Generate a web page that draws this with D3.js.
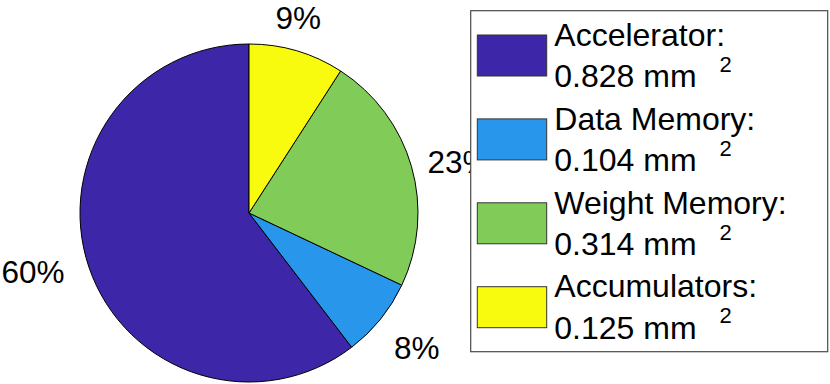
<!DOCTYPE html>
<html><head><meta charset="utf-8">
<script src="https://cdn.jsdelivr.net/npm/d3@7"></script>
<style>
body{margin:0;background:#fff;overflow:hidden}
text{font-family:"Liberation Sans",Arial,Helvetica,sans-serif;fill:#000}
</style>
</head><body>
<svg id="chart" width="830" height="384"></svg>
<script>
// ---- data ----
const categories = ["Accelerator", "Data Memory", "Weight Memory", "Accumulators"];
const areas = [0.828, 0.104, 0.314, 0.125];
const areaLabels = ["0.828", "0.104", "0.314", "0.125"];
const unitLabel = "mm";
const unitExponent = "2";
const colors = ["#3e26a8", "#2796eb", "#81cc59", "#f9fb0e"];

// ---- layout ----
const W = 830, H = 384;
const cx = 249, cy = 213, R = 169;
const labelRadius = 1.2 * R;
const labelNudge = [[-24, -6], [10, 8], [15, 5], [-8, -1]];
const fontSize = 32;

const svg = d3.select("#chart");

const pie = d3.pie().sort(null).value(d => d)
  .startAngle(2 * Math.PI).endAngle(0); // counter-clockwise from top, like MATLAB
const arcs = pie(areas);
const arc = d3.arc().innerRadius(0).outerRadius(R);
const labelArc = d3.arc().innerRadius(labelRadius).outerRadius(labelRadius);
const total = d3.sum(areas);

const g = svg.append("g").attr("transform", `translate(${cx},${cy})`);
g.selectAll("path.slice").data(arcs).enter().append("path")
  .attr("class", "slice")
  .attr("d", arc)
  .attr("fill", (d, i) => colors[i])
  .attr("stroke", "#000")
  .attr("stroke-width", 1)
  .attr("stroke-linejoin", "round");

g.selectAll("text.pct").data(arcs).enter().append("text")
  .attr("class", "pct")
  .attr("x", (d, i) => labelArc.centroid(d)[0] + labelNudge[i][0])
  .attr("y", (d, i) => labelArc.centroid(d)[1] + labelNudge[i][1])
  .attr("dy", "0.35em")
  .attr("text-anchor", "middle")
  .style("font-size", "31.5px")
  .text(d => Math.round(d.value / total * 100) + "%");

// ---- legend ----
const lx = 470.7, ly = 10.7, lw = 357, lh = 341;
const leg = svg.append("g");
leg.append("rect")
  .attr("x", lx).attr("y", ly).attr("width", lw).attr("height", lh)
  .attr("fill", "#fff").attr("stroke", "#4a4a4a").attr("stroke-width", 1.2);

const rowStep = 83.9;
const rowScale = d3.scaleLinear().domain([0, 1]).range([0, rowStep]);
categories.forEach((c, i) => {
  const y0 = ly + 24.3 + rowScale(i);
  leg.append("rect")
    .attr("x", 477.3).attr("y", y0).attr("width", 69.4).attr("height", 41)
    .attr("fill", colors[i]).attr("stroke", "#333").attr("stroke-width", 1);
  leg.append("text")
    .attr("x", 554.3).attr("y", y0 + 10.7)
    .style("font-size", fontSize + "px")
    .text(c + ":");
  const t = leg.append("text")
    .attr("x", 554.3).attr("y", y0 + 52.3)
    .style("font-size", fontSize + "px");
  t.append("tspan").text(areaLabels[i] + " " + unitLabel);
  t.append("tspan").attr("dx", 23).attr("dy", -15.6)
    .style("font-size", "22px").text(unitExponent);
});
</script>
</body></html>
